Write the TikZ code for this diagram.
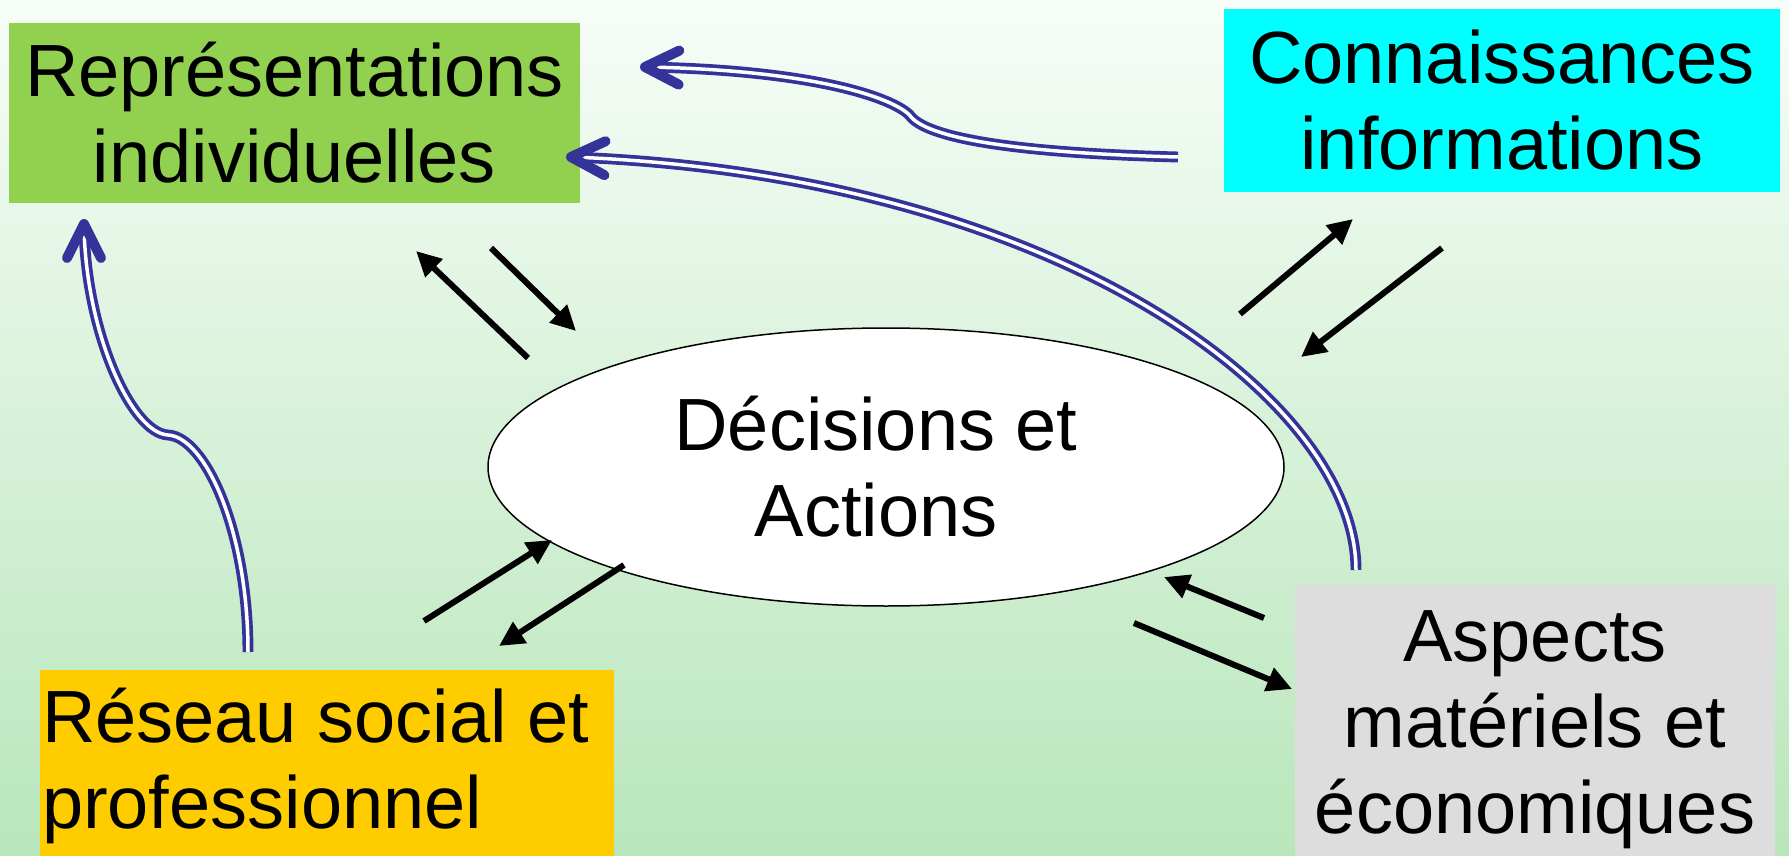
\documentclass[tikz,border=0pt]{standalone}
\usepackage{fontspec}
\setmainfont{Liberation Sans}
\usetikzlibrary{arrows.meta,shapes.geometric,calc}
\definecolor{bgtop}{RGB}{247,253,248}
\definecolor{bgbot}{RGB}{184,230,186}
\definecolor{boxgreen}{HTML}{92D050}
\definecolor{boxcyan}{HTML}{00FFFF}
\definecolor{boxyellow}{HTML}{FFCC00}
\definecolor{boxgray}{HTML}{DDDDDD}
\definecolor{myblue}{HTML}{333399}
\tikzset{
  box/.style={rectangle, inner xsep=2pt, inner ysep=0pt, font=\fontsize{74}{86}\selectfont, align=center},
  blk/.style={line width=6pt, -{Triangle[length=25pt,width=24pt]}},
  dbl/.style={draw=myblue, double=white, line width=3.7pt, double distance=3.5pt},
  chev/.style={draw=myblue, line width=10pt, line cap=round, line join=round},
}
\begin{document}
\begin{tikzpicture}[x=1pt,y=-1pt]
\useasboundingbox (0,0) rectangle (1789,856);
\shade[top color=bgtop, bottom color=bgbot] (0,0) rectangle (1789,856);

% ellipse
\node[ellipse, draw=black, line width=1.5pt, fill=white, minimum width=796pt, minimum height=278pt, inner sep=0pt] (dec) at (886,467) {};
\node[box] (dectxt) at (876,467) {Décisions et\\Actions};

% boxes
\node[box, fill=boxgreen, minimum width=571pt, minimum height=180pt] (rep) at (294.5,113) {Représentations\\individuelles};
\node[box, fill=boxcyan, minimum width=556pt, minimum height=183pt] (con) at (1502,100.5) {Connaissances\\informations};
\node[box, fill=boxyellow, text width=570pt, align=flush left, minimum height=192pt] (res) at (327,766) {Réseau social et\\professionnel};
\node[box, fill=boxgray, minimum width=480pt, minimum height=292pt] (asp) at (1535,730) {Aspects\\matériels et\\économiques};

% black arrow endpoints
\coordinate (a1s) at (528,358); \coordinate (a1e) at (416,251);
\coordinate (a2s) at (491,248); \coordinate (a2e) at (576,331);
\coordinate (a3s) at (1240,314); \coordinate (a3e) at (1353,219);
\coordinate (a4s) at (1442,248); \coordinate (a4e) at (1301,357);
\coordinate (a5s) at (424,621); \coordinate (a5e) at (552,540);
\coordinate (a6s) at (624,565); \coordinate (a6e) at (499,646);
\coordinate (a7s) at (1264,618); \coordinate (a7e) at (1164,577);
\coordinate (a8s) at (1134,623); \coordinate (a8e) at (1292,689);

\draw[blk] (a1s) -- (a1e);
\draw[blk] (a2s) -- (a2e);
\draw[blk] (a3s) -- (a3e);
\draw[blk] (a4s) -- (a4e);
\draw[blk] (a5s) -- (a5e);
\draw[blk] (a6s) -- (a6e);
\draw[blk] (a7s) -- (a7e);
\draw[blk] (a8s) -- (a8e);

% blue double connectors
\coordinate (b1s) at (1178,157); \coordinate (b1e) at (645,67);
\coordinate (b2s) at (1356,570); \coordinate (b2e) at (571,157);
\coordinate (b3s) at (248,652); \coordinate (b3e) at (84,224);

\draw[dbl] (b1s) .. controls (1020,153) and (933,139) .. (912,118) .. controls (900,100) and (820,70) .. (b1e);
\draw[dbl] (b2s) .. controls (1356,400) and (1060,175) .. (b2e);
\draw[dbl] (b3s) .. controls (248,530) and (205,437) .. (168,435) .. controls (131,433) and (85,330) .. (b3e);

\draw[chev, shift={(b1e)}, rotate=179] (-34,17) -- (0,0) -- (-34,-17);
\draw[chev, shift={(b2e)}, rotate=178] (-34,17) -- (0,0) -- (-34,-17);
\draw[chev, shift={(b3e)}, rotate=90] (-34,17) -- (0,0) -- (-34,-17);
\end{tikzpicture}
\end{document}
